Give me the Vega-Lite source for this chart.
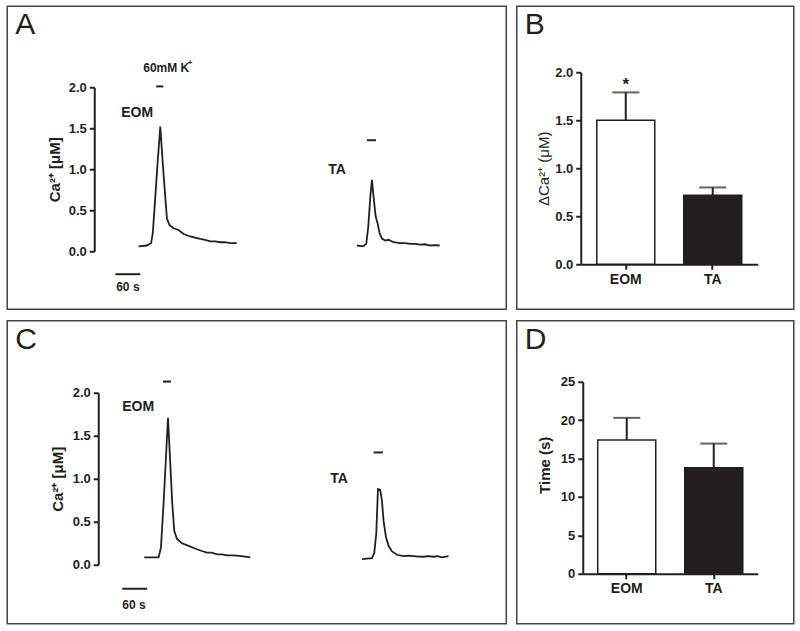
{
  "$schema": "https://vega.github.io/schema/vega-lite/v6.json",
  "padding": {"left": 6.25, "top": 5.25, "right": 0, "bottom": 0},
  "background": "white",
  "spacing": 9.5,
  "config": {
    "view": {"stroke": "#444444", "strokeWidth": 1.5},
    "font": "Liberation Sans",
    "title": {"fontSize": 30, "font": "Liberation Sans", "fontWeight": "normal", "anchor": "start", "frame": "group", "color": "#231f20", "offset": -34, "dx": 8, "baseline": "alphabetic"},
    "axis": {"labelFont": "Liberation Sans", "labelFontWeight": "bold", "labelFontSize": 13, "labelColor": "#231f20", "titleFont": "Liberation Sans", "titleColor": "#231f20", "titleFontSize": 15, "domainColor": "#231f20", "domainWidth": 2, "tickColor": "#231f20", "tickWidth": 2, "tickSize": 5, "labelPadding": 3, "grid": false},
    "text": {"font": "Liberation Sans", "color": "#231f20"}
  },
  "datasets": {
    "traceA": [
      {"muscle": "EOM", "t": 316, "v": 0.06}, {"muscle": "EOM", "t": 336, "v": 0.07}, {"muscle": "EOM", "t": 346, "v": 0.10}, {"muscle": "EOM", "t": 350, "v": 0.22}, {"muscle": "EOM", "t": 356, "v": 0.66}, {"muscle": "EOM", "t": 362, "v": 1.11}, {"muscle": "EOM", "t": 368, "v": 1.52}, {"muscle": "EOM", "t": 373.5, "v": 1.11}, {"muscle": "EOM", "t": 380, "v": 0.66}, {"muscle": "EOM", "t": 384, "v": 0.40}, {"muscle": "EOM", "t": 390, "v": 0.32}, {"muscle": "EOM", "t": 400, "v": 0.28}, {"muscle": "EOM", "t": 412, "v": 0.26}, {"muscle": "EOM", "t": 424, "v": 0.21}, {"muscle": "EOM", "t": 440, "v": 0.18}, {"muscle": "EOM", "t": 464, "v": 0.15}, {"muscle": "EOM", "t": 476, "v": 0.14}, {"muscle": "EOM", "t": 488, "v": 0.12}, {"muscle": "EOM", "t": 500, "v": 0.12}, {"muscle": "EOM", "t": 512, "v": 0.11}, {"muscle": "EOM", "t": 524, "v": 0.11}, {"muscle": "EOM", "t": 536, "v": 0.10}, {"muscle": "EOM", "t": 552, "v": 0.10},
      {"muscle": "TA", "t": 841, "v": 0.07}, {"muscle": "TA", "t": 855.5, "v": 0.06}, {"muscle": "TA", "t": 863.4, "v": 0.09}, {"muscle": "TA", "t": 868.2, "v": 0.30}, {"muscle": "TA", "t": 873, "v": 0.66}, {"muscle": "TA", "t": 877, "v": 0.87}, {"muscle": "TA", "t": 881, "v": 0.66}, {"muscle": "TA", "t": 885.8, "v": 0.43}, {"muscle": "TA", "t": 890.6, "v": 0.34}, {"muscle": "TA", "t": 895.4, "v": 0.22}, {"muscle": "TA", "t": 901.2, "v": 0.155}, {"muscle": "TA", "t": 909, "v": 0.13}, {"muscle": "TA", "t": 917, "v": 0.14}, {"muscle": "TA", "t": 929, "v": 0.11}, {"muscle": "TA", "t": 945, "v": 0.10}, {"muscle": "TA", "t": 957, "v": 0.10}, {"muscle": "TA", "t": 969, "v": 0.09}, {"muscle": "TA", "t": 981, "v": 0.09}, {"muscle": "TA", "t": 993, "v": 0.08}, {"muscle": "TA", "t": 1005, "v": 0.085}, {"muscle": "TA", "t": 1017, "v": 0.07}, {"muscle": "TA", "t": 1029, "v": 0.075}, {"muscle": "TA", "t": 1040, "v": 0.07}
    ],
    "traceC": [
      {"muscle": "EOM", "t": 329.5, "v": 0.085}, {"muscle": "EOM", "t": 363.9, "v": 0.085}, {"muscle": "EOM", "t": 369.6, "v": 0.20}, {"muscle": "EOM", "t": 375.9, "v": 0.71}, {"muscle": "EOM", "t": 381.7, "v": 1.25}, {"muscle": "EOM", "t": 386.5, "v": 1.71}, {"muscle": "EOM", "t": 391.3, "v": 1.25}, {"muscle": "EOM", "t": 396.8, "v": 0.71}, {"muscle": "EOM", "t": 401.6, "v": 0.395}, {"muscle": "EOM", "t": 408.1, "v": 0.30}, {"muscle": "EOM", "t": 420.1, "v": 0.25}, {"muscle": "EOM", "t": 436, "v": 0.22}, {"muscle": "EOM", "t": 456.2, "v": 0.18}, {"muscle": "EOM", "t": 468, "v": 0.16}, {"muscle": "EOM", "t": 480.3, "v": 0.14}, {"muscle": "EOM", "t": 492, "v": 0.14}, {"muscle": "EOM", "t": 504.3, "v": 0.12}, {"muscle": "EOM", "t": 516, "v": 0.12}, {"muscle": "EOM", "t": 528.4, "v": 0.11}, {"muscle": "EOM", "t": 540, "v": 0.11}, {"muscle": "EOM", "t": 552.4, "v": 0.105}, {"muscle": "EOM", "t": 562, "v": 0.10}, {"muscle": "EOM", "t": 572.4, "v": 0.095}, {"muscle": "EOM", "t": 584.4, "v": 0.085},
      {"muscle": "TA", "t": 853, "v": 0.066}, {"muscle": "TA", "t": 877.1, "v": 0.078}, {"muscle": "TA", "t": 882.6, "v": 0.14}, {"muscle": "TA", "t": 887.4, "v": 0.36}, {"muscle": "TA", "t": 891.5, "v": 0.88}, {"muscle": "TA", "t": 897, "v": 0.87}, {"muscle": "TA", "t": 901.2, "v": 0.74}, {"muscle": "TA", "t": 905, "v": 0.51}, {"muscle": "TA", "t": 910.8, "v": 0.32}, {"muscle": "TA", "t": 917, "v": 0.22}, {"muscle": "TA", "t": 925.2, "v": 0.155}, {"muscle": "TA", "t": 937.2, "v": 0.116}, {"muscle": "TA", "t": 953.1, "v": 0.10}, {"muscle": "TA", "t": 965, "v": 0.105}, {"muscle": "TA", "t": 977.2, "v": 0.10}, {"muscle": "TA", "t": 989, "v": 0.095}, {"muscle": "TA", "t": 1001.2, "v": 0.093}, {"muscle": "TA", "t": 1013, "v": 0.10}, {"muscle": "TA", "t": 1025.3, "v": 0.093}, {"muscle": "TA", "t": 1035, "v": 0.10}, {"muscle": "TA", "t": 1045.4, "v": 0.085}, {"muscle": "TA", "t": 1061.3, "v": 0.10}
    ],
    "segmentsA": [
      {"kind": "stimulus", "t": 358.3, "t2": 375.2, "v": 2.01},
      {"kind": "stimulus", "t": 865, "t2": 886.7, "v": 1.354},
      {"kind": "scale", "t": 260, "t2": 320, "v": -0.28}
    ],
    "segmentsC": [
      {"kind": "stimulus", "t": 374.5, "t2": 393.7, "v": 2.13},
      {"kind": "stimulus", "t": 881, "t2": 903.6, "v": 1.306},
      {"kind": "scale", "t": 276.6, "t2": 336.6, "v": -0.279}
    ],
    "labelsA": [
      {"role": "stimulus", "label": "60mM K", "t": 327, "v": 2.23},
      {"role": "superscript", "label": "+", "t": 434, "v": 2.30},
      {"role": "muscle", "label": "EOM", "t": 274, "v": 1.683},
      {"role": "muscle", "label": "TA", "t": 772, "v": 0.988},
      {"role": "scale", "label": "60 s", "t": 262, "v": -0.44}
    ],
    "labelsC": [
      {"role": "muscle", "label": "EOM", "t": 276.6, "v": 1.837},
      {"role": "muscle", "label": "TA", "t": 776.8, "v": 1.0},
      {"role": "scale", "label": "60 s", "t": 276.6, "v": -0.465}
    ],
    "barsB": [
      {"muscle": "EOM", "mean": 1.5, "upper": 1.79, "sig": "*"},
      {"muscle": "TA", "mean": 0.72, "upper": 0.80, "sig": ""}
    ],
    "barsD": [
      {"muscle": "EOM", "mean": 17.4, "upper": 20.3, "sig": ""},
      {"muscle": "TA", "mean": 13.8, "upper": 16.95, "sig": ""}
    ]
  },
  "vconcat": [
    {
      "spacing": 8.5,
      "hconcat": [
        {
          "width": 499, "height": 303,
          "title": {"text": "A"},
          "encoding": {
            "x": {"field": "t", "type": "quantitative", "scale": {"domain": [0, 1200], "nice": false, "zero": false}, "axis": null},
            "y": {"field": "v", "type": "quantitative", "scale": {"domain": [0, 2], "range": [245, 81], "nice": false, "zero": false},
                  "axis": {"values": [0, 0.5, 1, 1.5, 2], "format": ".1f", "offset": -87, "title": "Ca²⁺ [μM]", "titleFontWeight": "bold", "titlePadding": 6}}
          },
          "layer": [
            {"data": {"name": "traceA"}, "mark": {"type": "line", "color": "#231f20", "strokeWidth": 1.8}, "encoding": {"detail": {"field": "muscle"}}},
            {"data": {"name": "segmentsA"}, "mark": {"type": "rule", "color": "#231f20", "strokeWidth": 2}, "encoding": {"x2": {"field": "t2"}}},
            {"data": {"name": "labelsA"}, "transform": [{"filter": "datum.role === 'muscle'"}], "mark": {"type": "text", "align": "left", "baseline": "middle", "fontWeight": "bold", "fontSize": 14}, "encoding": {"text": {"field": "label"}}},
            {"data": {"name": "labelsA"}, "transform": [{"filter": "datum.role === 'stimulus' || datum.role === 'scale'"}], "mark": {"type": "text", "align": "left", "baseline": "middle", "fontWeight": "bold", "fontSize": 12}, "encoding": {"text": {"field": "label"}}},
            {"data": {"name": "labelsA"}, "transform": [{"filter": "datum.role === 'superscript'"}], "mark": {"type": "text", "align": "left", "baseline": "middle", "fontWeight": "bold", "fontSize": 8}, "encoding": {"text": {"field": "label"}}}
          ]
        },
        {
          "width": 277, "height": 303,
          "title": {"text": "B"},
          "data": {"name": "barsB"},
          "encoding": {
            "x": {"field": "muscle", "type": "nominal", "sort": ["EOM", "TA"], "scale": {"range": [64, 241], "paddingInner": 0.333, "paddingOuter": 0.184},
                  "axis": {"title": null, "labelAngle": 0, "offset": -45, "labelFontSize": 14}},
            "y": {"field": "mean", "type": "quantitative", "scale": {"domain": [0, 2], "range": [258, 66], "nice": false, "zero": false},
                  "axis": {"values": [0, 0.5, 1, 1.5, 2], "format": ".1f", "offset": -64, "title": "ΔCa²⁺ (μM)", "titleFontWeight": "normal", "titlePadding": 3}}
          },
          "layer": [
            {"mark": {"type": "rule", "color": "#231f20", "strokeWidth": 2}, "encoding": {"y2": {"field": "upper"}}},
            {"mark": {"type": "tick", "color": "#231f20", "size": 27, "thickness": 2}, "encoding": {"y": {"field": "upper", "type": "quantitative"}}},
            {"mark": {"type": "bar", "stroke": "#231f20", "strokeWidth": 1.5}, "encoding": {"fill": {"field": "muscle", "type": "nominal", "scale": {"domain": ["EOM", "TA"], "range": ["#ffffff", "#231f20"]}, "legend": null}}},
            {"mark": {"type": "text", "fontSize": 17, "fontWeight": "bold", "baseline": "alphabetic", "dy": -2}, "encoding": {"y": {"field": "upper", "type": "quantitative"}, "text": {"field": "sig"}}}
          ]
        }
      ]
    },
    {
      "spacing": 8.5,
      "hconcat": [
        {
          "width": 499, "height": 303,
          "title": {"text": "C"},
          "encoding": {
            "x": {"field": "t", "type": "quantitative", "scale": {"domain": [0, 1200], "nice": false, "zero": false}, "axis": null},
            "y": {"field": "v", "type": "quantitative", "scale": {"domain": [0, 2], "range": [244, 72], "nice": false, "zero": false},
                  "axis": {"values": [0, 0.5, 1, 1.5, 2], "format": ".1f", "offset": -91, "title": "Ca²⁺ [μM]", "titleFontWeight": "bold", "titlePadding": 7}}
          },
          "layer": [
            {"data": {"name": "traceC"}, "mark": {"type": "line", "color": "#231f20", "strokeWidth": 1.8}, "encoding": {"detail": {"field": "muscle"}}},
            {"data": {"name": "segmentsC"}, "mark": {"type": "rule", "color": "#231f20", "strokeWidth": 2}, "encoding": {"x2": {"field": "t2"}}},
            {"data": {"name": "labelsC"}, "transform": [{"filter": "datum.role === 'muscle'"}], "mark": {"type": "text", "align": "left", "baseline": "middle", "fontWeight": "bold", "fontSize": 14}, "encoding": {"text": {"field": "label"}}},
            {"data": {"name": "labelsC"}, "transform": [{"filter": "datum.role !== 'muscle'"}], "mark": {"type": "text", "align": "left", "baseline": "middle", "fontWeight": "bold", "fontSize": 12}, "encoding": {"text": {"field": "label"}}}
          ]
        },
        {
          "width": 277, "height": 303,
          "title": {"text": "D"},
          "data": {"name": "barsD"},
          "encoding": {
            "x": {"field": "muscle", "type": "nominal", "sort": ["EOM", "TA"], "scale": {"range": [66, 241], "paddingInner": 0.333, "paddingOuter": 0.172},
                  "axis": {"title": null, "labelAngle": 0, "offset": -50, "labelFontSize": 14}},
            "y": {"field": "mean", "type": "quantitative", "scale": {"domain": [0, 25], "range": [253, 61], "nice": false, "zero": false},
                  "axis": {"values": [0, 5, 10, 15, 20, 25], "offset": -66, "title": "Time (s)", "titleFontWeight": "bold", "titlePadding": 8, "titleY": 144}}
          },
          "layer": [
            {"mark": {"type": "rule", "color": "#231f20", "strokeWidth": 2}, "encoding": {"y2": {"field": "upper"}}},
            {"mark": {"type": "tick", "color": "#231f20", "size": 27, "thickness": 2}, "encoding": {"y": {"field": "upper", "type": "quantitative"}}},
            {"mark": {"type": "bar", "stroke": "#231f20", "strokeWidth": 1.5}, "encoding": {"fill": {"field": "muscle", "type": "nominal", "scale": {"domain": ["EOM", "TA"], "range": ["#ffffff", "#231f20"]}, "legend": null}}}
          ]
        }
      ]
    }
  ]
}
